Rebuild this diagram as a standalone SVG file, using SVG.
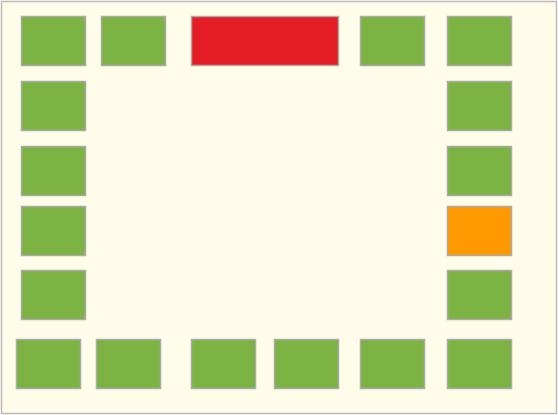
<svg xmlns="http://www.w3.org/2000/svg" width="558" height="415" viewBox="0 0 558 415">
<style>
.n{stroke:#aaaaaa;stroke-width:1.5}
.g{fill:#7cb342}
.r{fill:#e51e25}
.o{fill:#ff9900}
</style>
<rect x="1.5" y="1.5" width="555" height="412" fill="#fffde9" stroke="#bbbbbb" stroke-width="1.5"/>
<g id="connectors"></g>
<g id="t1"><rect class="n g" x="21.5" y="16.5" width="64" height="49"/></g>
<g id="t2"><rect class="n g" x="101.5" y="16.5" width="64" height="49"/></g>
<g id="t3"><rect class="n r" x="191.5" y="16.5" width="147" height="49"/></g>
<g id="t4"><rect class="n g" x="360.5" y="16.5" width="64" height="49"/></g>
<g id="t5"><rect class="n g" x="447.5" y="16.5" width="64" height="49"/></g>
<g id="l1"><rect class="n g" x="21.5" y="81.5" width="64" height="49"/></g>
<g id="l2"><rect class="n g" x="21.5" y="146.5" width="64" height="49"/></g>
<g id="l3"><rect class="n g" x="21.5" y="206.5" width="64" height="49"/></g>
<g id="l4"><rect class="n g" x="21.5" y="270.5" width="64" height="49"/></g>
<g id="r1"><rect class="n g" x="447.5" y="81.5" width="64" height="49"/></g>
<g id="r2"><rect class="n g" x="447.5" y="146.5" width="64" height="49"/></g>
<g id="r3"><rect class="n o" x="447.5" y="206.5" width="64" height="49"/></g>
<g id="r4"><rect class="n g" x="447.5" y="270.5" width="64" height="49"/></g>
<g id="b1"><rect class="n g" x="16.5" y="339.5" width="64" height="49"/></g>
<g id="b2"><rect class="n g" x="96.5" y="339.5" width="64" height="49"/></g>
<g id="b3"><rect class="n g" x="191.5" y="339.5" width="64" height="49"/></g>
<g id="b4"><rect class="n g" x="274.5" y="339.5" width="64" height="49"/></g>
<g id="b5"><rect class="n g" x="360.5" y="339.5" width="64" height="49"/></g>
<g id="b6"><rect class="n g" x="447.5" y="339.5" width="64" height="49"/></g>
</svg>
